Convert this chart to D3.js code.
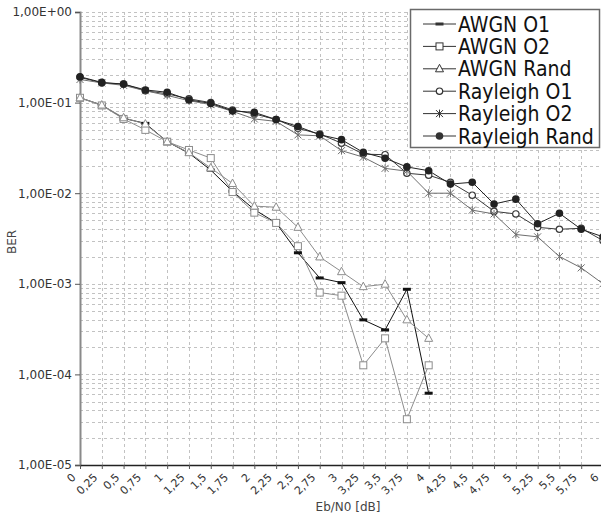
<!DOCTYPE html>
<html>
<head>
<meta charset="utf-8">
<script src="https://cdn.jsdelivr.net/npm/d3@7/dist/d3.min.js"></script>
<style>
  html, body { margin: 0; padding: 0; background: #fff; }
  svg { display: block; }
  text { font-family: "DejaVu Sans", sans-serif; }
  .legend text { font-family: "DejaVu Sans Condensed", "DejaVu Sans", sans-serif; font-stretch: condensed; }
</style>
</head>
<body>
<script>
// Eb/N0 sample points (dB)
const ebn0Awgn = [0, 0.25, 0.5, 0.75, 1, 1.25, 1.5, 1.75, 2, 2.25, 2.5, 2.75, 3, 3.25, 3.5, 3.75, 4];
const ebn0Rayleigh = [0, 0.25, 0.5, 0.75, 1, 1.25, 1.5, 1.75, 2, 2.25, 2.5, 2.75, 3, 3.25, 3.5, 3.75, 4,
                      4.25, 4.5, 4.75, 5, 5.25, 5.5, 5.75, 6];

// Bit error rates per channel / interleaver
const awgnO1 = [0.113, 0.094, 0.067, 0.059, 0.037, 0.0277, 0.018, 0.0105, 0.0066, 0.0047, 0.0022,
                0.00116, 0.00103, 0.00040, 0.00031, 0.00087, 0.000062];
const awgnO2 = [0.113, 0.093, 0.066, 0.050, 0.037, 0.030, 0.0244, 0.0103, 0.0061, 0.0047, 0.0026,
                0.00080, 0.00074, 0.000126, 0.00025, 0.000032, 0.000126];
const awgnRand = [0.113, 0.094, 0.068, 0.058, 0.037, 0.028, 0.019, 0.0128, 0.0072, 0.0070, 0.0042,
                  0.00198, 0.00136, 0.00093, 0.00099, 0.00040, 0.00025];
const rayleighO1 = [0.19, 0.165, 0.16, 0.135, 0.125, 0.11, 0.10, 0.083, 0.075, 0.065, 0.052, 0.045,
                    0.0357, 0.027, 0.0266, 0.0166, 0.0158, 0.0132, 0.0095, 0.0063, 0.0059, 0.0042,
                    0.0040, 0.0041, 0.0030];
const rayleighO2 = [0.18, 0.165, 0.155, 0.135, 0.12, 0.105, 0.095, 0.08, 0.066, 0.062, 0.044, 0.043,
                    0.0295, 0.025, 0.0188, 0.0175, 0.010, 0.010, 0.0065, 0.0059, 0.0035, 0.0033,
                    0.0020, 0.0015, 0.0010];
const rayleighRand = [0.193, 0.167, 0.16, 0.138, 0.13, 0.107, 0.098, 0.081, 0.078, 0.065, 0.0545,
                      0.0442, 0.039, 0.0282, 0.0243, 0.0195, 0.0177, 0.0126, 0.0132, 0.0076, 0.0086,
                      0.0046, 0.0060, 0.0040, 0.0033];

const xTickValues = [0, 0.25, 0.5, 0.75, 1, 1.25, 1.5, 1.75, 2, 2.25, 2.5, 2.75, 3, 3.25, 3.5, 3.75,
                     4, 4.25, 4.5, 4.75, 5, 5.25, 5.5, 5.75, 6];
const yTickValues = [1, 1e-1, 1e-2, 1e-3, 1e-4, 1e-5];
const seriesNames = ["AWGN O1", "AWGN O2", "AWGN Rand", "Rayleigh O1", "Rayleigh O2", "Rayleigh Rand"];

const W = 601, H = 524;
const padL = 80, padR = 603, padT = 12, padB = 465;

const svg = d3.select("body").append("svg").attr("width", W).attr("height", H);
svg.append("rect").attr("width", W).attr("height", H).attr("fill", "#fff");

const x = d3.scaleLinear().domain([0, 6]).range([padL, padR]);
const y = d3.scaleLog().domain([1e-5, 1]).range([padB, padT]);

// grid: vertical at every 0.25 dB, horizontal at every decade subdivision
const minorY = [];
for (let e = -5; e < 0; e++) for (let m = 1; m <= 9; m++) minorY.push(m * Math.pow(10, e));
minorY.push(1);
const grid = svg.append("g").attr("stroke", "#c2c2c2").attr("stroke-width", 1)
  .attr("stroke-dasharray", "3,3").attr("shape-rendering", "crispEdges");
grid.selectAll("line.v").data(xTickValues.slice(1)).join("line")
  .attr("x1", d => Math.round(x(d)) + 0.5).attr("x2", d => Math.round(x(d)) + 0.5)
  .attr("y1", padT).attr("y2", padB);
grid.selectAll("line.h").data(minorY.filter(v => v > 1e-5)).join("line")
  .attr("x1", padL).attr("x2", W)
  .attr("y1", d => Math.round(y(d)) + 0.5).attr("y2", d => Math.round(y(d)) + 0.5);

// axes
const fmtY = v => {
  const e = Math.round(Math.log10(v));
  return "1,00E" + (e >= 0 ? "+" : "-") + String(Math.abs(e)).padStart(2, "0");
};
const fmtX = v => String(v).replace(".", ",");

const yAxis = svg.append("g").attr("transform", `translate(${padL},0)`)
  .call(d3.axisLeft(y).tickValues(yTickValues).tickFormat(fmtY).tickSize(5).tickPadding(3));
yAxis.select(".domain").attr("stroke", "#8a8a8a").attr("stroke-width", 2);
yAxis.selectAll(".tick line").attr("stroke", "#555");
yAxis.selectAll(".tick text").attr("font-size", 12).attr("fill", "#333")
  .style("font-family", '"DejaVu Sans", sans-serif');

const xAxis = svg.append("g").attr("transform", `translate(0,${padB})`)
  .call(d3.axisBottom(x).tickValues(xTickValues).tickFormat(fmtX).tickSize(4).tickSizeOuter(0));
xAxis.select(".domain").attr("stroke", "#222").attr("stroke-width", 1.5);
xAxis.selectAll(".tick line").attr("stroke", "#555");
xAxis.selectAll(".tick text")
  .attr("font-size", 11).attr("fill", "#333")
  .attr("text-anchor", "end").attr("dy", null).attr("y", null)
  .attr("transform", "translate(-4,13) rotate(-45)")
  .style("font-family", '"DejaVu Sans", sans-serif');

svg.append("text").attr("x", 348).attr("y", 511).attr("text-anchor", "middle")
  .attr("font-size", 12).attr("fill", "#444").text("Eb/N0 [dB]");
svg.append("text").attr("transform", "translate(16,242) rotate(-90)").attr("text-anchor", "middle")
  .attr("font-size", 12).attr("fill", "#444").text("BER");

// series
const series = [
  { name: seriesNames[0], xs: ebn0Awgn, ys: awgnO1, color: "#111", marker: "bar" },
  { name: seriesNames[1], xs: ebn0Awgn, ys: awgnO2, color: "#8c8c8c", marker: "square" },
  { name: seriesNames[2], xs: ebn0Awgn, ys: awgnRand, color: "#8c8c8c", marker: "triangle" },
  { name: seriesNames[3], xs: ebn0Rayleigh, ys: rayleighO1, color: "#3a3a3a", marker: "circle" },
  { name: seriesNames[4], xs: ebn0Rayleigh, ys: rayleighO2, color: "#6e6e6e", marker: "star" },
  { name: seriesNames[5], xs: ebn0Rayleigh, ys: rayleighRand, color: "#222", marker: "dot" }
];

const line = d3.line().x(d => x(d[0])).y(d => y(d[1]));

function drawMarker(g, type, color) {
  switch (type) {
    case "bar":
      g.append("rect").attr("x", -4).attr("y", -1.5).attr("width", 8).attr("height", 3).attr("fill", color);
      break;
    case "square":
      g.append("rect").attr("x", -3.5).attr("y", -3.5).attr("width", 7).attr("height", 7)
        .attr("fill", "#fff").attr("stroke", color).attr("stroke-width", 1);
      break;
    case "triangle":
      g.append("path").attr("d", "M0,-4.5L4,3L-4,3Z")
        .attr("fill", "#fff").attr("stroke", color).attr("stroke-width", 1);
      break;
    case "circle":
      g.append("circle").attr("r", 3.2).attr("fill", "#fff").attr("stroke", color).attr("stroke-width", 1.2);
      break;
    case "star":
      g.append("path").attr("d", "M-3.5,-3.5L3.5,3.5M-3.5,3.5L3.5,-3.5M0,-4L0,4")
        .attr("stroke", color).attr("stroke-width", 1);
      break;
    case "dot":
      g.append("circle").attr("r", 3.8).attr("fill", color);
      break;
  }
}

const plot = svg.append("g");
series.forEach(s => {
  const pts = s.xs.map((v, i) => [v, s.ys[i]]);
  plot.append("path").datum(pts).attr("d", line)
    .attr("fill", "none").attr("stroke", s.color).attr("stroke-width", 1);
});
series.forEach(s => {
  s.xs.forEach((v, i) => {
    const g = plot.append("g").attr("transform", `translate(${x(v)},${y(s.ys[i])})`);
    drawMarker(g, s.marker, s.color);
  });
});

// legend
const lg = svg.append("g").attr("class", "legend");
lg.append("rect").attr("x", 410.5).attr("y", 9.5).attr("width", 189).attr("height", 138)
  .attr("fill", "#fff").attr("stroke", "#6a6a6a").attr("stroke-width", 1.5);
const rowY = d3.scalePoint().domain(seriesNames).range([24, 136]);
series.forEach(s => {
  const yy = rowY(s.name);
  lg.append("line").attr("x1", 423).attr("x2", 456).attr("y1", yy).attr("y2", yy)
    .attr("stroke", "#333").attr("stroke-width", 1);
  const g = lg.append("g").attr("transform", `translate(439.5,${yy})`);
  drawMarker(g, s.marker, "#333");
  lg.append("text").attr("x", 458).attr("y", yy).attr("dy", "0.36em")
    .attr("font-size", 21).attr("fill", "#111").text(s.name);
});
</script>
</body>
</html>
